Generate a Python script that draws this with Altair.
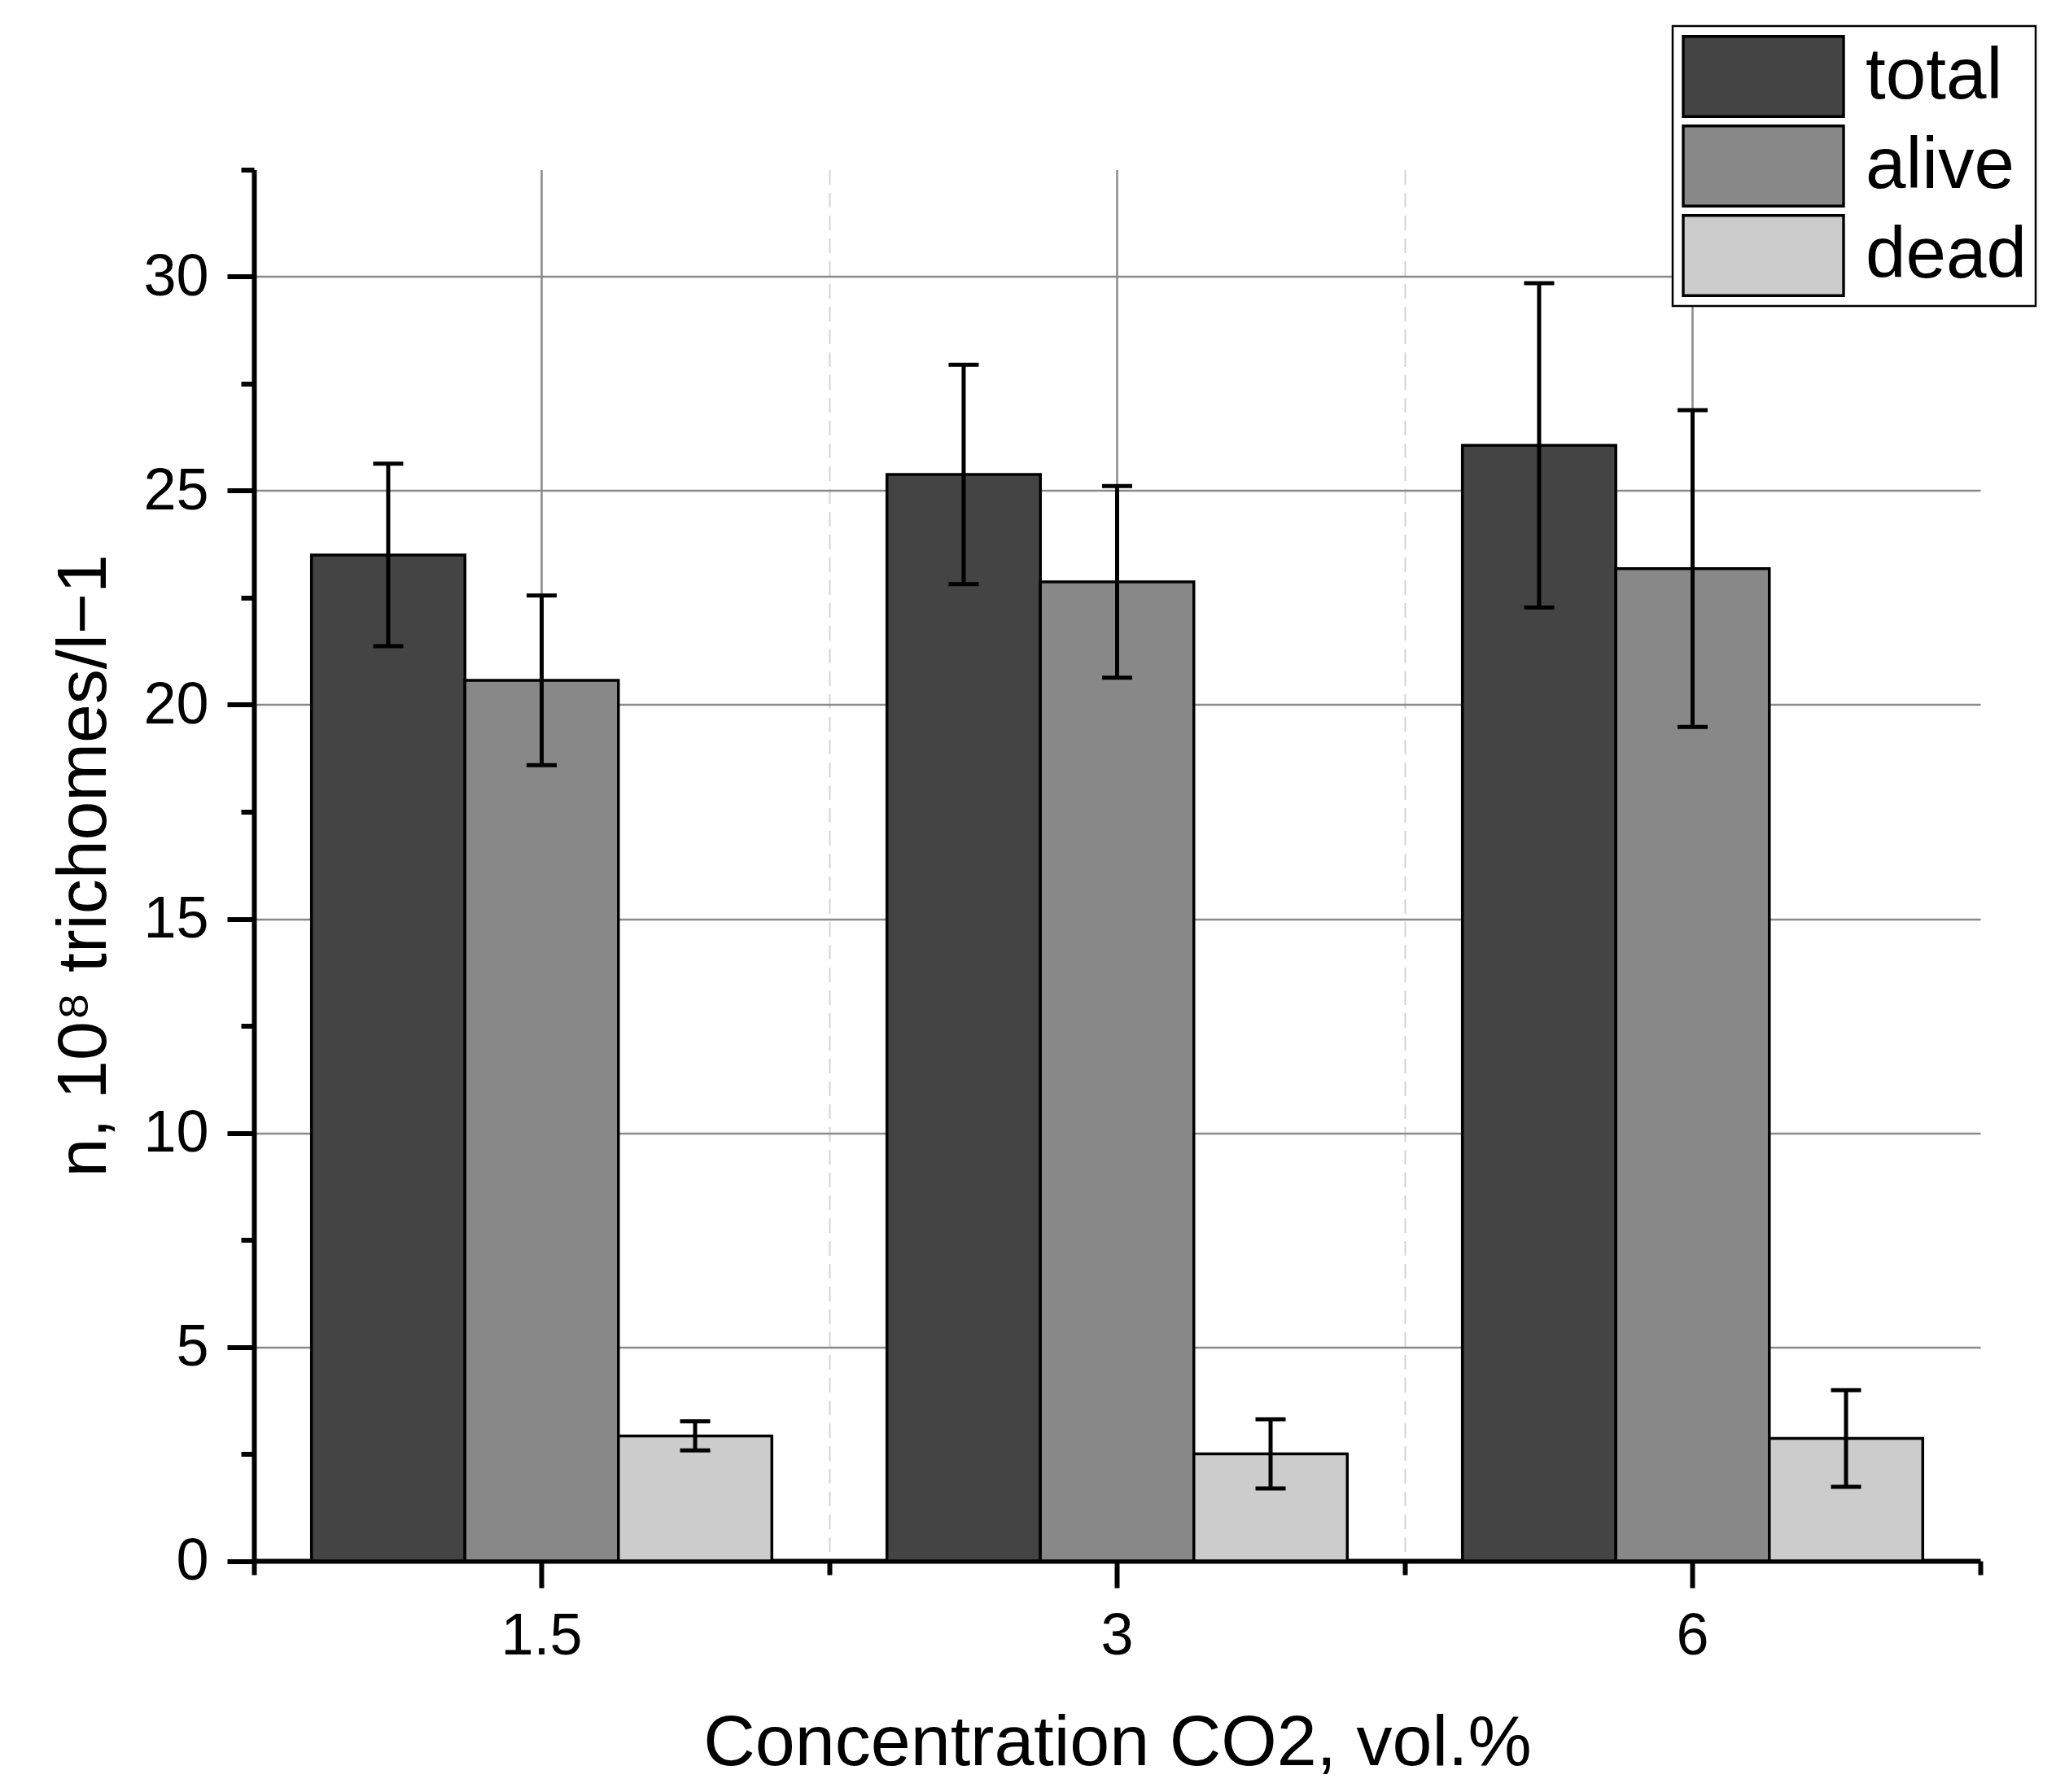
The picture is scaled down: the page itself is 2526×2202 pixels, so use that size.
import altair as alt
import pandas as pd

# categories and series
concentrations = ["1.5", "3", "6"]
series = ["total", "alive", "dead"]
colors = ["#444444", "#888888", "#cccccc"]

# bar heights and error bar half-widths
total_mean = [23.5, 25.38, 26.06]
total_err = [2.13, 2.56, 3.79]
alive_mean = [20.57, 22.87, 23.18]
alive_err = [1.98, 2.24, 3.70]
dead_mean = [2.92, 2.50, 2.86]
dead_err = [0.34, 0.81, 1.13]

y_major = [0, 5, 10, 15, 20, 25, 30]
y_minor = [2.5, 7.5, 12.5, 17.5, 22.5, 27.5, 32.5]

rows = []
for name, means, errs in zip(series, [total_mean, alive_mean, dead_mean],
                             [total_err, alive_err, dead_err]):
    for c, m, e in zip(concentrations, means, errs):
        rows.append({"conc": c, "series": name, "mean": m, "err": e})
df = pd.DataFrame(rows)

FONT = "Liberation Sans, Arial, sans-serif"

# full-width bands so the extent ticks fall midway between groups,
# the gap between groups comes from the outer padding of the offset scale
x_scale = alt.Scale(domain=concentrations, paddingInner=0, paddingOuter=0)
off_scale = alt.Scale(domain=series, paddingInner=0, paddingOuter=0.375)
y_scale = alt.Scale(domain=[0, 32.5], nice=False, zero=False)

major_x = alt.Axis(orient="bottom", title="Concentration CO2, vol.%", labelAngle=0,
                   tickBand="center", tickSize=33, tickWidth=6, tickColor="black",
                   domainColor="black", domainWidth=6,
                   labelFont=FONT, labelFontSize=72, labelColor="black", labelPadding=24,
                   titleFont=FONT, titleFontSize=88, titleFontWeight="normal",
                   titleColor="black", titlePadding=52,
                   grid=True, gridColor="#8a8a8a", gridWidth=2.5)

minor_x = alt.Axis(orient="bottom", title=None, labels=False, domain=False,
                   tickBand="extent", tickSize=17, tickWidth=6, tickColor="black",
                   grid=True, gridColor="#d4d4d4", gridWidth=2, gridDash=[18, 10],
                   gridOpacity={"condition": {"test": "datum.index < 1", "value": 1}, "value": 0})

major_y = alt.Axis(orient="left", values=y_major, title="n, 10⁸ trichomes/l−1",
                   tickSize=33, tickWidth=6, tickColor="black",
                   domainColor="black", domainWidth=6,
                   labelFont=FONT, labelFontSize=72, labelColor="black", labelPadding=23,
                   titleFont=FONT, titleFontSize=86, titleFontWeight="normal",
                   titleColor="black", titlePadding=28,
                   grid=True, gridColor="#8a8a8a", gridWidth=2.5)

minor_y = alt.Axis(orient="left", values=y_minor, title=None, labels=False, domain=False,
                   tickSize=16, tickWidth=6, tickColor="black", grid=False)

legend = alt.Legend(title=None, orient="none", legendX=1743, legendY=-176.5,
                    symbolType="M-1,-0.5H1V0.5H-1Z", symbolSize=38809,
                    symbolStrokeColor="black", symbolStrokeWidth=3.4, symbolOpacity=1,
                    clipHeight=102, rowPadding=8, padding=11,
                    labelFont=FONT, labelFontSize=89, labelColor="black", labelOffset=25,
                    labelLimit=600, strokeColor="black", fillColor="white")

base = alt.Chart(df).transform_calculate(
    lo="datum.mean - datum.err",
    hi="datum.mean + datum.err"
)

bars = base.mark_bar(stroke="black", strokeWidth=3.5, opacity=1).encode(
    x=alt.X("conc:N", scale=x_scale, sort=concentrations, axis=major_x),
    xOffset=alt.XOffset("series:N", scale=off_scale, sort=series),
    y=alt.Y("mean:Q", scale=y_scale, axis=major_y),
    color=alt.Color("series:N", sort=series,
                    scale=alt.Scale(domain=series, range=colors), legend=legend),
)

rules = base.mark_rule(color="black", strokeWidth=5).encode(
    x=alt.X("conc:N", sort=concentrations, axis=minor_x),
    xOffset=alt.XOffset("series:N", sort=series),
    y=alt.Y("lo:Q", axis=minor_y),
    y2="hi:Q",
)

caps_lo = base.mark_tick(color="black", size=37, thickness=5, opacity=1).encode(
    x=alt.X("conc:N", sort=concentrations, axis=None),
    xOffset=alt.XOffset("series:N", sort=series),
    y=alt.Y("lo:Q", axis=None),
)

caps_hi = base.mark_tick(color="black", size=37, thickness=5, opacity=1).encode(
    x=alt.X("conc:N", sort=concentrations, axis=None),
    xOffset=alt.XOffset("series:N", sort=series),
    y=alt.Y("hi:Q", axis=None),
)

chart = alt.layer(bars, rules, caps_lo, caps_hi).resolve_axis(
    x="independent", y="independent"
).properties(
    width=2121,
    height=1709.5,
    autosize=alt.AutoSizeParams(type="none"),
    padding={"left": 304, "top": 200.5, "right": 85, "bottom": 275},
).configure_view(
    stroke=None
).configure_legend(
    strokeWidth=2.5
)

chart.save("out.html", embed_options={"renderer": "svg", "actions": False})
